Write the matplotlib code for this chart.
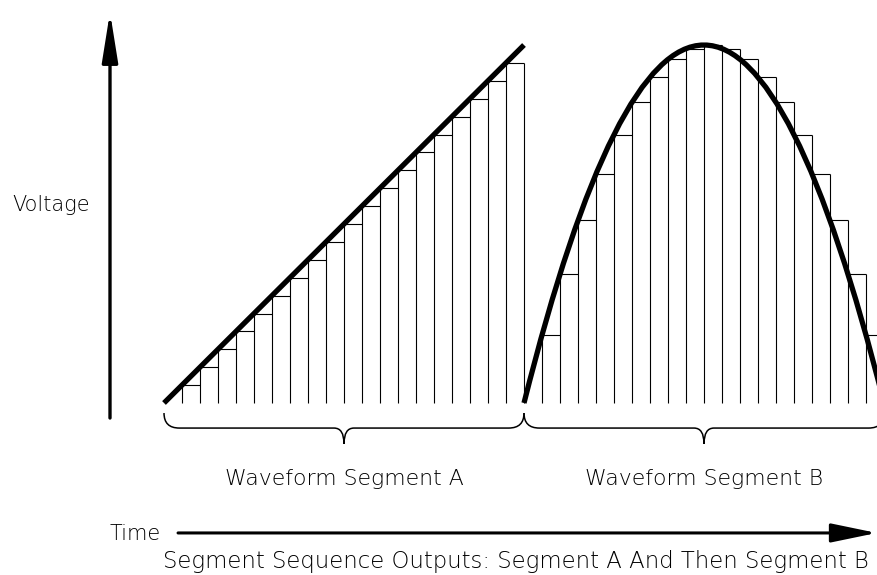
import numpy as np
import matplotlib
matplotlib.use("Agg")
import matplotlib.pyplot as plt
from matplotlib.path import Path
from matplotlib.patches import PathPatch

# ---------------- data ----------------
# Sampled (zero-order-hold) step heights, normalised voltage
ramp_steps = [0.00, 0.05, 0.10, 0.15, 0.20, 0.25, 0.30, 0.35, 0.40, 0.45,
              0.50, 0.55, 0.60, 0.65, 0.70, 0.75, 0.80, 0.85, 0.90, 0.95]
arch_steps = [0.00, 0.19, 0.36, 0.51, 0.64, 0.75, 0.84, 0.91, 0.96, 0.99,
              1.00, 0.99, 0.96, 0.91, 0.84, 0.75, 0.64, 0.51, 0.36, 0.19]

# Continuous waveforms
ramp_x = [0, 20]
ramp_y = [0.0, 1.0]
# Segment B arch: quadratic Bezier (start, control, end)
arch_x = [20, 30, 40]
arch_y = [0.0, 2.0, 0.0]

segments = ["Waveform Segment A", "Waveform Segment B"]
segment_bounds = [(0, 20), (20, 40)]
y_label = "Voltage"
x_label = "Time"
caption = "Segment Sequence Outputs: Segment A And Then Segment B"

# ---------------- figure ----------------
W, H = 878, 575
fig = plt.figure(figsize=(W / 100, H / 100), dpi=100)
fig.patch.set_facecolor("white")
ax = fig.add_axes([164 / W, 172 / H, 720 / W, 358 / H])
ax.set_xlim(0, 40)
ax.set_ylim(0, 1)
ax.axis("off")

font = dict(family=["DejaVu Sans"], fontweight="light", fontsize=15, color="black")

steps = np.array(ramp_steps + arch_steps)
edges = np.arange(len(steps) + 1)

# tops of the sample bars (only non-zero bars have a visible top)
mask = steps > 0
ax.hlines(steps[mask], edges[:-1][mask], edges[1:][mask], color="black",
          lw=0.8, clip_on=False)
# vertical edges of every sample bar
left = np.concatenate([[0.0], steps])
right = np.concatenate([steps, [0.0]])
ax.vlines(edges, 0, np.maximum(left, right), color="black", lw=0.8, clip_on=False)

# thick continuous waveforms
ax.plot(ramp_x, ramp_y, color="black", lw=3.8, solid_capstyle="butt", clip_on=False)
arch_path = Path(list(zip(arch_x, arch_y)), [Path.MOVETO, Path.CURVE3, Path.CURVE3])
ax.add_patch(PathPatch(arch_path, fill=False, lw=3.8, edgecolor="black",
                       capstyle="butt", clip_on=False))

# braces under each segment
y_top, y_mid, y_tip = -0.028, -0.070, -0.114
dx_end, dx_mid = 0.85, 0.55
seg_font = dict(font, fontsize=15.8)
for (x0, x1), name in zip(segment_bounds, segments):
    xm = (x0 + x1) / 2
    verts = [(x0, y_top), (x0, y_mid), (x0 + dx_end, y_mid),
             (xm - dx_mid, y_mid), (xm, y_mid), (xm, y_tip),
             (xm, y_mid), (xm + dx_mid, y_mid),
             (x1 - dx_end, y_mid), (x1, y_mid), (x1, y_top)]
    codes = [Path.MOVETO, Path.CURVE3, Path.CURVE3,
             Path.LINETO, Path.CURVE3, Path.CURVE3,
             Path.CURVE3, Path.CURVE3,
             Path.LINETO, Path.CURVE3, Path.CURVE3]
    ax.add_patch(PathPatch(Path(verts, codes), fill=False, lw=1.1,
                           edgecolor="black", clip_on=False))
    ax.text(xm, -0.212, name, ha="center", va="center", **seg_font)

# voltage axis arrow
ax.annotate("", xy=(-3.0, 1.092), xytext=(-3.0, -0.042), xycoords="data",
            arrowprops=dict(arrowstyle="-|>,head_length=30,head_width=4.8",
                            mutation_scale=1, lw=2.4, color="black",
                            shrinkA=0, shrinkB=0), annotation_clip=False)
ax.text(-8.45, 0.553, y_label, ha="left", va="center", **font)

# time arrow
ax.annotate("", xy=(39.6, -0.363), xytext=(0.78, -0.363), xycoords="data",
            arrowprops=dict(arrowstyle="-|>,head_length=28,head_width=5.8",
                            mutation_scale=1, lw=2.2, color="black",
                            shrinkA=0, shrinkB=0), annotation_clip=False)
ax.text(-3.0, -0.366, x_label, ha="left", va="center", **font)
cap_font = dict(font, fontsize=16.4)
ax.text(-0.06, -0.444, caption, ha="left", va="center", **cap_font)

fig.savefig("out.png", dpi=100, facecolor="white")
